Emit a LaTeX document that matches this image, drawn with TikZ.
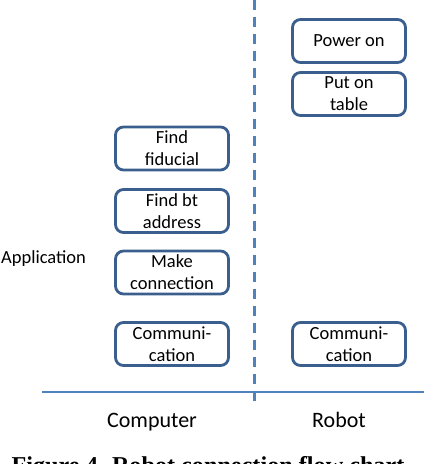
\documentclass[tikz,border=0pt]{standalone}
\usepackage{fontspec}
\setmainfont{Carlito}
\newfontfamily\capfont{Liberation Serif}
\definecolor{boxc}{HTML}{3A5F8F}
\definecolor{linec}{HTML}{4F81BD}
\begin{document}
\begin{tikzpicture}[x=1pt,y=-1pt,
  stepbox/.style={draw=boxc, line width=2.8pt, rounded corners=8pt,
    minimum width=113pt, minimum height=43pt, inner sep=0pt,
    align=center, font=\fontsize{18.5}{22}\selectfont},
  lbl/.style={inner sep=0pt, font=\fontsize{22}{26}\selectfont}]
\useasboundingbox (0,0) rectangle (424,464);
% lanes
\coordinate (dtop) at (254.5,0);
\coordinate (dbot) at (254.5,408);
\coordinate (hl) at (42,392);
\coordinate (hr) at (424,392);
\draw[linec, line width=2pt] (hl) -- (hr);
\draw[linec, line width=3pt, dash pattern=on 10pt off 7pt] (dtop) -- (dbot);
% computer side
\node[stepbox] (fid) at (172,148.5) {Find\\fiducial};
\node[stepbox] (bt) at (172,211) {Find bt\\address};
\node[stepbox] (mc) at (172,272.5) {Make\\connection};
\node[stepbox] (cl) at (172,344) {Communi-\\cation};
% robot side
\node[stepbox] (pw) at (349,41) {Power on};
\node[stepbox] (pt) at (349,94) {Put on\\table};
\node[stepbox] (cr) at (349,344) {Communi-\\cation};
% labels
\node[inner sep=0pt, anchor=west, font=\fontsize{18.5}{22}\selectfont] (app) at (1,259) {Application};
\node[lbl, anchor=base] (comp) at (152,427) {Computer};
\node[lbl, anchor=base] (rob) at (339,427) {Robot};
\node[inner sep=0pt, anchor=base, font=\capfont\bfseries\fontsize{24.2}{28}\selectfont] (cap) at (208,473) {Figure 4. Robot connection flow chart};
\end{tikzpicture}
\end{document}
